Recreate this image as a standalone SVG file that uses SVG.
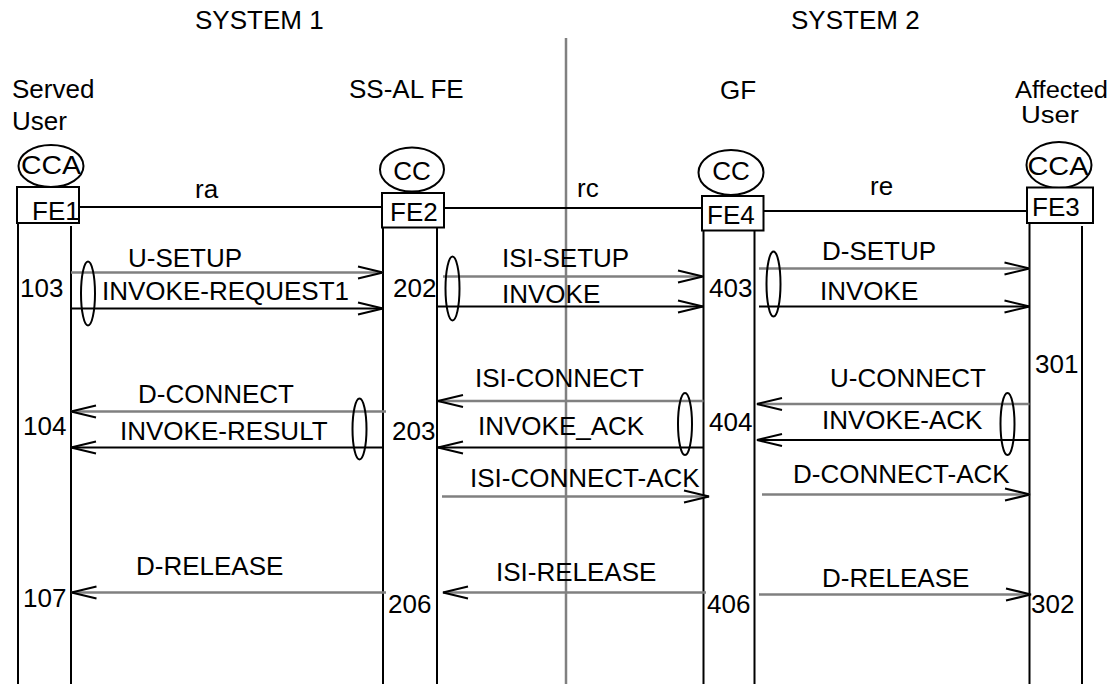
<svg xmlns="http://www.w3.org/2000/svg" width="1119" height="684" viewBox="0 0 1119 684">
<style>
text{font-family:"Liberation Sans",Arial,sans-serif;font-size:26px;fill:#000}
.m{text-anchor:middle}
.sm{font-size:23px}
.life{stroke:#000;stroke-width:2;fill:none}
.box{stroke:#000;stroke-width:2;fill:#fff}
.ell{stroke:#000;stroke-width:2;fill:none}
.g{stroke:#808080;stroke-width:2.5;fill:none}
.b{stroke:#000;stroke-width:2;fill:none}
</style>
<defs>
<marker id="ah" viewBox="-27 -8 29 16" refX="0" refY="0" markerWidth="29" markerHeight="16" markerUnits="userSpaceOnUse" orient="auto" overflow="visible">
<path d="M-25,-6 L0,0 L-25,6" fill="none" stroke="#000" stroke-width="2"/>
</marker>
</defs>
<rect width="1119" height="684" fill="#fff"/>
<g id="headers">
<text x="195" y="29">SYSTEM 1</text>
<text x="791" y="29">SYSTEM 2</text>
<line x1="566" y1="38" x2="566" y2="684" class="g"/>
</g>
<g id="fe1">
<text x="12" y="98">Served</text>
<text x="12" y="130">User</text>
<ellipse cx="51" cy="166" rx="32.5" ry="21" class="ell"/>
<text x="51" y="174" class="m" textLength="60" lengthAdjust="spacingAndGlyphs">CCA</text>
<line x1="18" y1="223" x2="18" y2="684" class="life"/>
<line x1="71" y1="226" x2="71" y2="684" class="life"/>
<rect x="17" y="187" width="62" height="36" class="box"/>
<text x="32" y="220">FE1</text>
</g>
<g id="fe2">
<text x="349" y="98">SS-AL FE</text>
<ellipse cx="412" cy="169.5" rx="32" ry="22" class="ell"/>
<text x="412" y="180" class="m">CC</text>
<line x1="383" y1="227" x2="383" y2="684" class="life"/>
<line x1="437" y1="227" x2="437" y2="684" class="life"/>
<rect x="382" y="193" width="62" height="34.5" class="box"/>
<text x="390" y="221">FE2</text>
</g>
<g id="fe4">
<text x="720" y="99">GF</text>
<ellipse cx="731" cy="172.5" rx="32.5" ry="22.5" class="ell"/>
<text x="731" y="180" class="m">CC</text>
<line x1="703.5" y1="231" x2="703.5" y2="684" class="life"/>
<line x1="754.5" y1="231" x2="754.5" y2="684" class="life"/>
<rect x="702" y="196" width="61.5" height="34.5" class="box"/>
<text x="707" y="224">FE4</text>
</g>
<g id="fe3">
<text x="1015" y="98" class="sm" textLength="93" lengthAdjust="spacingAndGlyphs">Affected</text>
<text x="1021" y="123" class="sm" textLength="58" lengthAdjust="spacingAndGlyphs">User</text>
<ellipse cx="1059" cy="165" rx="32.5" ry="23" class="ell"/>
<text x="1058" y="175" class="m" textLength="61" lengthAdjust="spacingAndGlyphs">CCA</text>
<line x1="1029.5" y1="223" x2="1029.5" y2="684" class="life"/>
<line x1="1082" y1="226" x2="1082" y2="684" class="life"/>
<rect x="1027" y="187.5" width="66" height="35.5" class="box"/>
<text x="1032" y="216">FE3</text>
</g>
<g id="connectors">
<line x1="79" y1="207" x2="382" y2="207" class="b"/>
<line x1="444" y1="208" x2="702" y2="208" class="b"/>
<line x1="763.5" y1="211" x2="1027" y2="211" class="b"/>
<text x="195" y="198">ra</text>
<text x="577" y="197">rc</text>
<text x="870" y="195">re</text>

<line x1="71" y1="272.5" x2="383" y2="272.5" class="g" marker-end="url(#ah)"/>
<line x1="71" y1="308.5" x2="383" y2="308.5" class="b" marker-end="url(#ah)"/>
<ellipse cx="88" cy="293.5" rx="7" ry="32" class="ell"/>
<text x="128" y="267">U-SETUP</text>
<text x="102" y="299.5">INVOKE-REQUEST1</text>

<line x1="443" y1="276.5" x2="703" y2="276.5" class="g" marker-end="url(#ah)"/>
<line x1="437" y1="306.5" x2="703" y2="306.5" class="b" marker-end="url(#ah)"/>
<ellipse cx="452.5" cy="288.5" rx="7" ry="32" class="ell"/>
<text x="502" y="267">ISI-SETUP</text>
<text x="502" y="303">INVOKE</text>

<line x1="759" y1="268.5" x2="1029.5" y2="268.5" class="g" marker-end="url(#ah)"/>
<line x1="759" y1="306.5" x2="1029.5" y2="306.5" class="b" marker-end="url(#ah)"/>
<ellipse cx="773.5" cy="284" rx="7" ry="32.5" class="ell"/>
<text x="822" y="260">D-SETUP</text>
<text x="820" y="299.5">INVOKE</text>

<line x1="1029.5" y1="404" x2="757" y2="404" class="g" marker-end="url(#ah)"/>
<line x1="1029.5" y1="440" x2="757" y2="440" class="b" marker-end="url(#ah)"/>
<ellipse cx="1007.5" cy="424" rx="7" ry="31" class="ell"/>
<text x="830" y="387">U-CONNECT</text>
<text x="822" y="428.5">INVOKE-ACK</text>
<line x1="762" y1="494.5" x2="1030" y2="494.5" class="g" marker-end="url(#ah)"/>
<text x="793" y="483">D-CONNECT-ACK</text>

<line x1="703.5" y1="401" x2="438" y2="401" class="g" marker-end="url(#ah)"/>
<line x1="703.5" y1="447.5" x2="438" y2="447.5" class="b" marker-end="url(#ah)"/>
<ellipse cx="685" cy="424" rx="7" ry="31" class="ell"/>
<text x="475" y="387">ISI-CONNECT</text>
<text x="478" y="434.5">INVOKE_ACK</text>
<line x1="442" y1="496.5" x2="709" y2="496.5" class="g" marker-end="url(#ah)"/>
<text x="470" y="487">ISI-CONNECT-ACK</text>

<line x1="386" y1="411.5" x2="71" y2="411.5" class="g" marker-end="url(#ah)"/>
<line x1="383" y1="447.5" x2="71" y2="447.5" class="b" marker-end="url(#ah)"/>
<ellipse cx="359.5" cy="429" rx="7" ry="30.5" class="ell"/>
<text x="138" y="403">D-CONNECT</text>
<text x="120" y="439.5">INVOKE-RESULT</text>

<line x1="386" y1="592.5" x2="71.5" y2="592.5" class="g" marker-end="url(#ah)"/>
<text x="136" y="575">D-RELEASE</text>
<line x1="706" y1="592.5" x2="443" y2="592.5" class="g" marker-end="url(#ah)"/>
<text x="496" y="581">ISI-RELEASE</text>
<line x1="759" y1="594.5" x2="1031" y2="594.5" class="g" marker-end="url(#ah)"/>
<text x="822" y="586.5">D-RELEASE</text>

<text x="20" y="297">103</text>
<text x="393" y="297">202</text>
<text x="709" y="297">403</text>
<text x="1035" y="373">301</text>
<text x="23" y="435">104</text>
<text x="392" y="439.5">203</text>
<text x="709" y="431">404</text>
<text x="23" y="607">107</text>
<text x="388" y="613">206</text>
<text x="707" y="613">406</text>
<text x="1031" y="613">302</text>
</g>
</svg>
